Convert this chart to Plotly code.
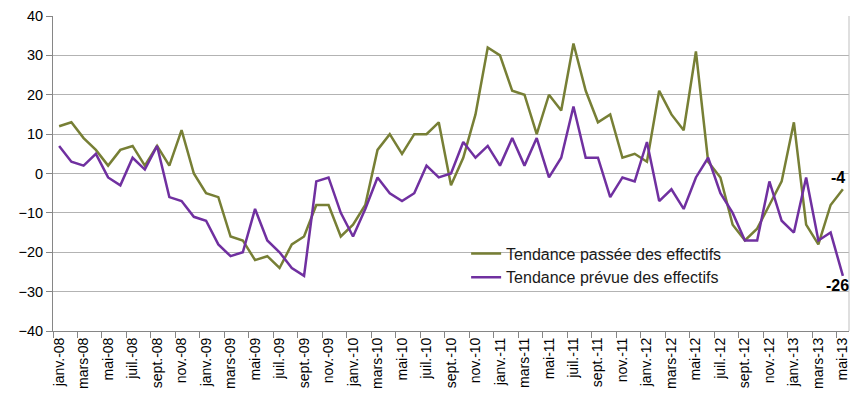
import plotly.graph_objects as go

# month labels, janv.-08 to mai-13
mois = ["janv.", "févr.", "mars", "avr.", "mai", "juin",
        "juil.", "août", "sept.", "oct.", "nov.", "déc."]
annees = ["08", "09", "10", "11", "12", "13"]
labels = [f"{m}-{a}" for a in annees for m in mois][:65]

passee = [12, 13, 9, 6, 2, 6, 7, 2, 7, 2, 11, 0,
          -5, -6, -16, -17, -22, -21, -24, -18, -16, -8, -8, -16,
          -13, -8, 6, 10, 5, 10, 10, 13, -3, 4, 15, 32,
          30, 21, 20, 10, 20, 16, 33, 21, 13, 15, 4, 5,
          3, 21, 15, 11, 31, 3, -1, -13, -17, -14, -8, -2,
          13, -13, -18, -8, -4]
prevue = [7, 3, 2, 5, -1, -3, 4, 1, 7, -6, -7, -11,
          -12, -18, -21, -20, -9, -17, -20, -24, -26, -2, -1, -10,
          -16, -9, -1, -5, -7, -5, 2, -1, 0, 8, 4, 7,
          2, 9, 2, 9, -1, 4, 17, 4, 4, -6, -1, -2,
          8, -7, -4, -9, -1, 4, -5, -10, -17, -17, -2, -12,
          -15, -1, -17, -15, -26]

x = list(range(len(labels)))
vert = "#777F35"
violet = "#7030A0"

fig = go.Figure()
fig.add_trace(go.Scatter(x=x, y=passee, mode="lines", name="Tendance passée des effectifs",
                         line=dict(color=vert, width=2.5)))
fig.add_trace(go.Scatter(x=x, y=prevue, mode="lines", name="Tendance prévue des effectifs",
                         line=dict(color=violet, width=2.5)))

# end-of-series values
fig.add_annotation(x=x[-1], y=passee[-1], text=f"<b>{passee[-1]}</b>", showarrow=False,
                   xanchor="center", yanchor="bottom", xshift=-5, yshift=1,
                   font=dict(size=16, color="black"))
fig.add_annotation(x=x[-1], y=prevue[-1], text=f"<b>{prevue[-1]}</b>", showarrow=False,
                   xanchor="center", yanchor="top", xshift=-5, yshift=1,
                   font=dict(size=16, color="black"))

# page body adds an 8px offset, so margins are shifted to compensate
fig.update_layout(
    width=867, height=411,
    margin=dict(l=45, r=26, t=8, b=88),
    plot_bgcolor="white", paper_bgcolor="white",
    font=dict(family="Liberation Sans, Arial, sans-serif", size=14, color="black"),
    showlegend=True,
    legend=dict(x=0.519, y=0.30, xanchor="left", yanchor="top",
                bgcolor="rgba(0,0,0,0)", font=dict(size=16, color="#1a1a1a"),
                tracegroupgap=0),
)
fig.update_xaxes(
    automargin=False,
    range=[-0.5, len(labels) - 0.5],
    tickmode="array", tickvals=x[::2], ticktext=labels[::2],
    tickangle=-90, tickfont=dict(size=14),
    ticks="", showgrid=False, zeroline=False,
    showline=True, linecolor="#868686", linewidth=1,
    minor=dict(tickmode="linear", tick0=-0.5, dtick=2, ticks="outside",
               ticklen=6, tickcolor="#868686", showgrid=False),
)
fig.update_yaxes(
    automargin=False, ticklabeloverflow="allow",
    range=[-40, 40], dtick=10, tickfont=dict(size=14.5),
    ticks="outside", ticklen=6, tickcolor="#868686",
    showgrid=True, gridcolor="#B3B3B3", gridwidth=1,
    zeroline=False, showline=True, linecolor="#868686", linewidth=1,
    mirror=False,
)
# right border of the plot area
fig.add_shape(type="line", xref="paper", yref="paper", x0=1, x1=1, y0=0, y1=1,
              line=dict(color="#BFBFBF", width=1))

fig.write_html("out.html")
